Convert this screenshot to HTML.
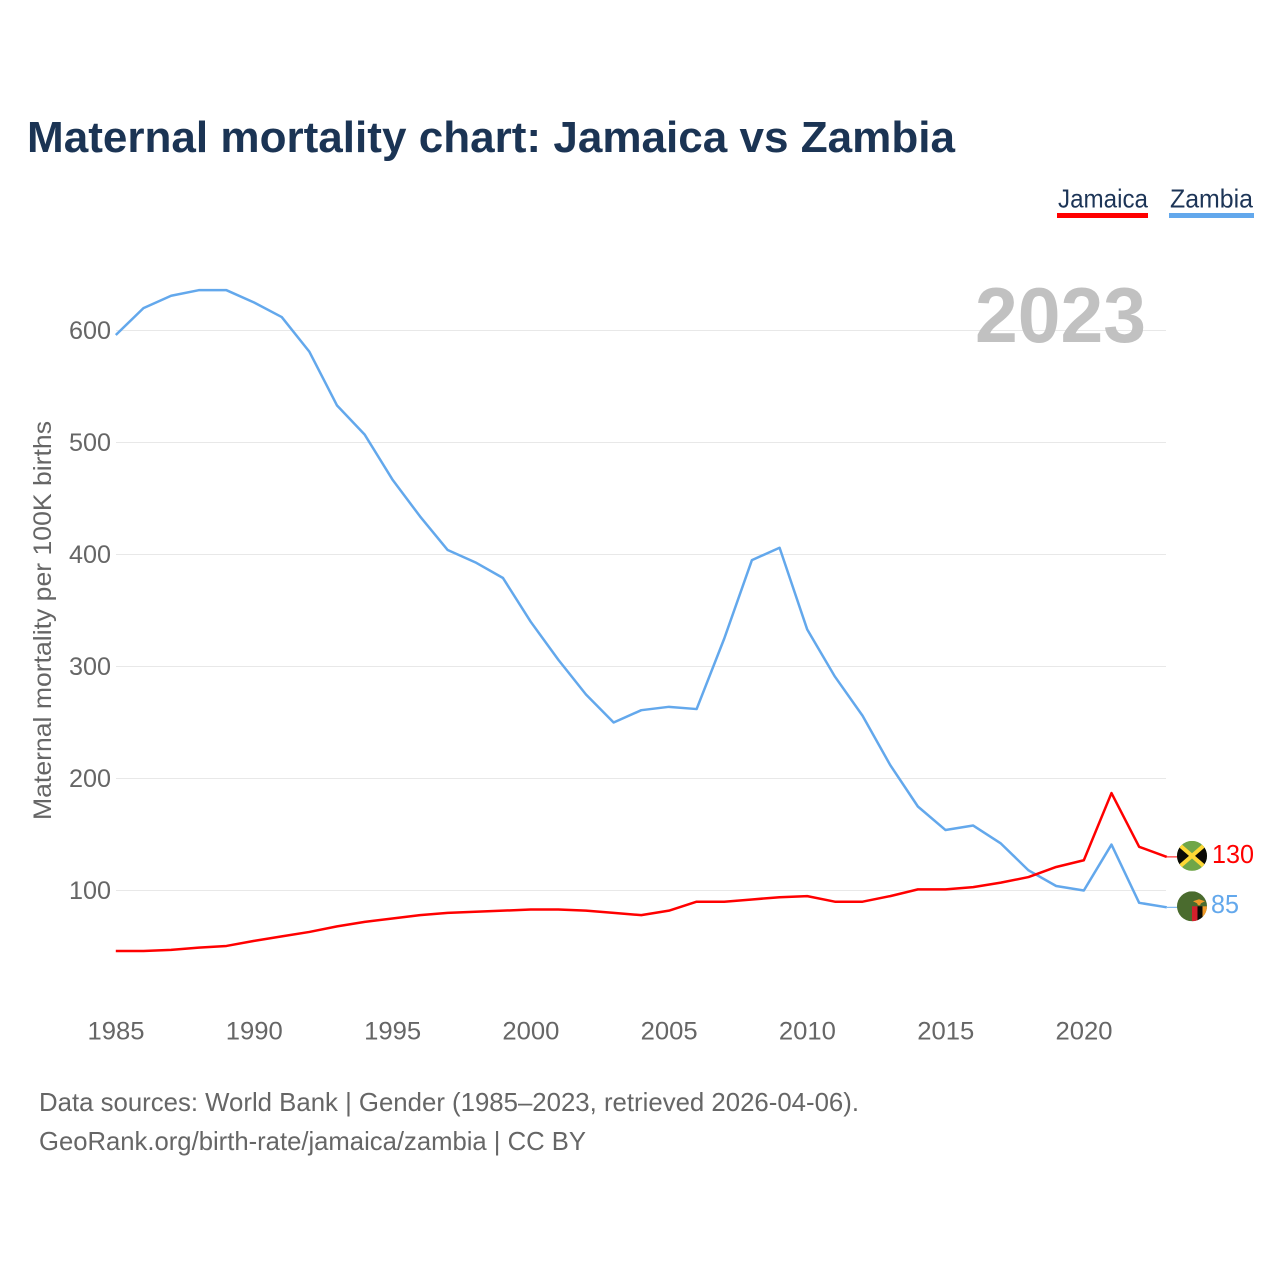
<!DOCTYPE html>
<html lang="en">
<head>
<meta charset="utf-8">
<title>Maternal mortality chart: Jamaica vs Zambia</title>
<style>
html,body{margin:0;padding:0;background:#fff;}
svg{display:block;font-family:"Liberation Sans",sans-serif;}
</style>
</head>
<body>
<svg id="chart" xmlns="http://www.w3.org/2000/svg" width="1280" height="1280" viewBox="0 0 1280 1280">
  <defs>
    <clipPath id="clip-jamaica"><circle cx="0" cy="0" r="15"/></clipPath>
    <clipPath id="clip-zambia"><circle cx="0" cy="0" r="15"/></clipPath>
  </defs>
  <rect x="0" y="0" width="1280" height="1280" fill="#fff"/>
  <text x="27" y="152" font-size="44" font-weight="700" fill="#1b3454" textLength="928" lengthAdjust="spacingAndGlyphs">Maternal mortality chart: Jamaica vs Zambia</text>
  <g>
    <text x="1058" y="207.5" font-size="26" fill="#1d3557" textLength="90" lengthAdjust="spacingAndGlyphs">Jamaica</text>
    <rect x="1057" y="213" width="91" height="5" fill="#ff0000"/>
    <text x="1170" y="207.5" font-size="26" fill="#1d3557" textLength="83" lengthAdjust="spacingAndGlyphs">Zambia</text>
    <rect x="1169" y="213" width="85" height="5" fill="#63a8ec"/>
  </g>
  <g id="grid"></g>
  <g id="y-ticks"></g>
  <g id="x-ticks"></g>
  <text x="975" y="342" font-size="78" font-weight="700" fill="#c1c1c1" textLength="171" lengthAdjust="spacingAndGlyphs">2023</text>
  <text transform="translate(51,820) rotate(-90)" x="0" y="0" font-size="25" fill="#666" textLength="399" lengthAdjust="spacingAndGlyphs">Maternal mortality per 100K births</text>
  <g id="series"></g>
  <g id="flag-jamaica">
    <g clip-path="url(#clip-jamaica)">
      <rect x="-15" y="-15" width="30" height="30" fill="#6fa648"/>
      <polygon points="-15,-13 0,0 -15,13" fill="#0a0a06"/>
      <polygon points="15,-13 0,0 15,13" fill="#0a0a06"/>
      <path d="M-15,-13 L15,13 M15,-13 L-15,13" stroke="#fdd835" stroke-width="4" fill="none"/>
    </g>
  </g>
  <g id="flag-zambia">
    <g clip-path="url(#clip-zambia)">
      <rect x="-15" y="-15" width="30" height="30" fill="#4a6b2e"/>
      <rect x="0" y="0" width="5.5" height="15" fill="#d3202c"/>
      <rect x="5.5" y="0" width="5" height="15" fill="#0a0a06"/>
      <rect x="10.5" y="0" width="5" height="15" fill="#f09a28"/>
      <polygon points="1,-5 7,-7 13,-5 9,-3 8,-1 6,-1 5,-3" fill="#f09a28"/>
    </g>
  </g>
  <g id="end-labels"></g>
  <text x="39" y="1111" font-size="26" fill="#666" textLength="820" lengthAdjust="spacingAndGlyphs">Data sources: World Bank | Gender (1985–2023, retrieved 2026-04-06).</text>
  <text x="39" y="1150" font-size="26" fill="#666" textLength="547" lengthAdjust="spacingAndGlyphs">GeoRank.org/birth-rate/jamaica/zambia | CC BY</text>
</svg>
<script>
const years = [1985,1986,1987,1988,1989,1990,1991,1992,1993,1994,1995,1996,1997,1998,1999,2000,2001,2002,2003,2004,2005,2006,2007,2008,2009,2010,2011,2012,2013,2014,2015,2016,2017,2018,2019,2020,2021,2022,2023];
const jamaicaValues = [46,46,47,49,50.5,55,59,63,68,72,75,78,80,81,82,83,83,82,80,78,82,90,90,92,94,95,90,90,95,101,101,103,107,112,121,127,187,139,130];
const zambiaValues = [596,620,631,636,636,625,612,581,533,507,467,434,404,393,379,340,306,275,250,261,264,262,325,395,406,333,291,256,212,175,154,158,142,118,104,100,141,89,85];
const yTickValues = [100,200,300,400,500,600];
const xTickValues = [1985,1990,1995,2000,2005,2010,2015,2020];

const SVG_NS = 'http://www.w3.org/2000/svg';
const xScale = function (year) { return 115.8 + (year - 1985) * (1167 - 116) / 38; };
const yScale = function (value) { return 1002.5 - value * 1.12; };

const gridGroup = document.getElementById('grid');
const yTickGroup = document.getElementById('y-ticks');
const xTickGroup = document.getElementById('x-ticks');
const seriesGroup = document.getElementById('series');
const labelGroup = document.getElementById('end-labels');

yTickValues.forEach(function (value) {
  const line = document.createElementNS(SVG_NS, 'line');
  
  
  line.setAttribute('x1', 116);
  line.setAttribute('x2', 1166);
  line.setAttribute('y1', yScale(value));
  line.setAttribute('y2', yScale(value));
  line.setAttribute('stroke', '#e8e8e8');
  line.setAttribute('stroke-width', 1);
  gridGroup.appendChild(line);

  const label = document.createElementNS(SVG_NS, 'text');
  
  
  label.setAttribute('x', 69);
  label.setAttribute('y', yScale(value) + 8.5);
  label.setAttribute('font-size', 25);
  label.setAttribute('fill', '#666');
  label.setAttribute('textLength', 42);
  label.setAttribute('lengthAdjust', 'spacingAndGlyphs');
  label.textContent = String(value);
  yTickGroup.appendChild(label);
});

xTickValues.forEach(function (year) {
  const label = document.createElementNS(SVG_NS, 'text');
  
  
  label.setAttribute('x', xScale(year) - 28.3);
  label.setAttribute('y', 1039.5);
  label.setAttribute('font-size', 25);
  label.setAttribute('fill', '#666');
  label.setAttribute('textLength', 57);
  label.setAttribute('lengthAdjust', 'spacingAndGlyphs');
  label.textContent = String(year);
  xTickGroup.appendChild(label);
});

function pathFor(values) {
  return values.map(function (value, i) {
    return (i === 0 ? 'M' : 'L') + xScale(years[i]).toFixed(2) + ',' + yScale(value).toFixed(2);
  }).join(' ');
}

const zambiaLine = document.createElementNS(SVG_NS, 'path');


zambiaLine.setAttribute('d', pathFor(zambiaValues));
zambiaLine.setAttribute('fill', 'none');
zambiaLine.setAttribute('stroke', '#63a8ec');
zambiaLine.setAttribute('stroke-width', 2.5);
zambiaLine.setAttribute('stroke-linejoin', 'round');
seriesGroup.appendChild(zambiaLine);

const jamaicaLine = document.createElementNS(SVG_NS, 'path');


jamaicaLine.setAttribute('d', pathFor(jamaicaValues));
jamaicaLine.setAttribute('fill', 'none');
jamaicaLine.setAttribute('stroke', '#ff0000');
jamaicaLine.setAttribute('stroke-width', 2.5);
jamaicaLine.setAttribute('stroke-linejoin', 'round');
seriesGroup.appendChild(jamaicaLine);

const jamaicaLast = jamaicaValues[jamaicaValues.length - 1];
const zambiaLast = zambiaValues[zambiaValues.length - 1];

const jamaicaConnector = document.createElementNS(SVG_NS, 'line');


jamaicaConnector.setAttribute('x1', 1167);
jamaicaConnector.setAttribute('x2', 1178);
jamaicaConnector.setAttribute('y1', yScale(jamaicaLast));
jamaicaConnector.setAttribute('y2', yScale(jamaicaLast));
jamaicaConnector.setAttribute('stroke', '#ff0000');
jamaicaConnector.setAttribute('stroke-width', 1);
seriesGroup.appendChild(jamaicaConnector);

const zambiaConnector = document.createElementNS(SVG_NS, 'line');


zambiaConnector.setAttribute('x1', 1167);
zambiaConnector.setAttribute('x2', 1178);
zambiaConnector.setAttribute('y1', yScale(zambiaLast));
zambiaConnector.setAttribute('y2', yScale(zambiaLast));
zambiaConnector.setAttribute('stroke', '#63a8ec');
zambiaConnector.setAttribute('stroke-width', 1);
seriesGroup.appendChild(zambiaConnector);

document.getElementById('flag-jamaica').setAttribute('transform', 'translate(1192,' + (yScale(jamaicaLast) - 1) + ')');
document.getElementById('flag-zambia').setAttribute('transform', 'translate(1192,' + (yScale(zambiaLast) - 1) + ')');

const jamaicaLabel = document.createElementNS(SVG_NS, 'text');


jamaicaLabel.setAttribute('x', 1212);
jamaicaLabel.setAttribute('y', yScale(jamaicaLast) + 6);
jamaicaLabel.setAttribute('font-size', 26);
jamaicaLabel.setAttribute('fill', '#ff0000');
jamaicaLabel.setAttribute('textLength', 42);
jamaicaLabel.setAttribute('lengthAdjust', 'spacingAndGlyphs');
jamaicaLabel.textContent = String(jamaicaLast);
labelGroup.appendChild(jamaicaLabel);

const zambiaLabel = document.createElementNS(SVG_NS, 'text');


zambiaLabel.setAttribute('x', 1211);
zambiaLabel.setAttribute('y', yScale(zambiaLast) + 5.7);
zambiaLabel.setAttribute('font-size', 26);
zambiaLabel.setAttribute('fill', '#63a8ec');
zambiaLabel.setAttribute('textLength', 28);
zambiaLabel.setAttribute('lengthAdjust', 'spacingAndGlyphs');
zambiaLabel.textContent = String(zambiaLast);
labelGroup.appendChild(zambiaLabel);
</script>
</body>
</html>
